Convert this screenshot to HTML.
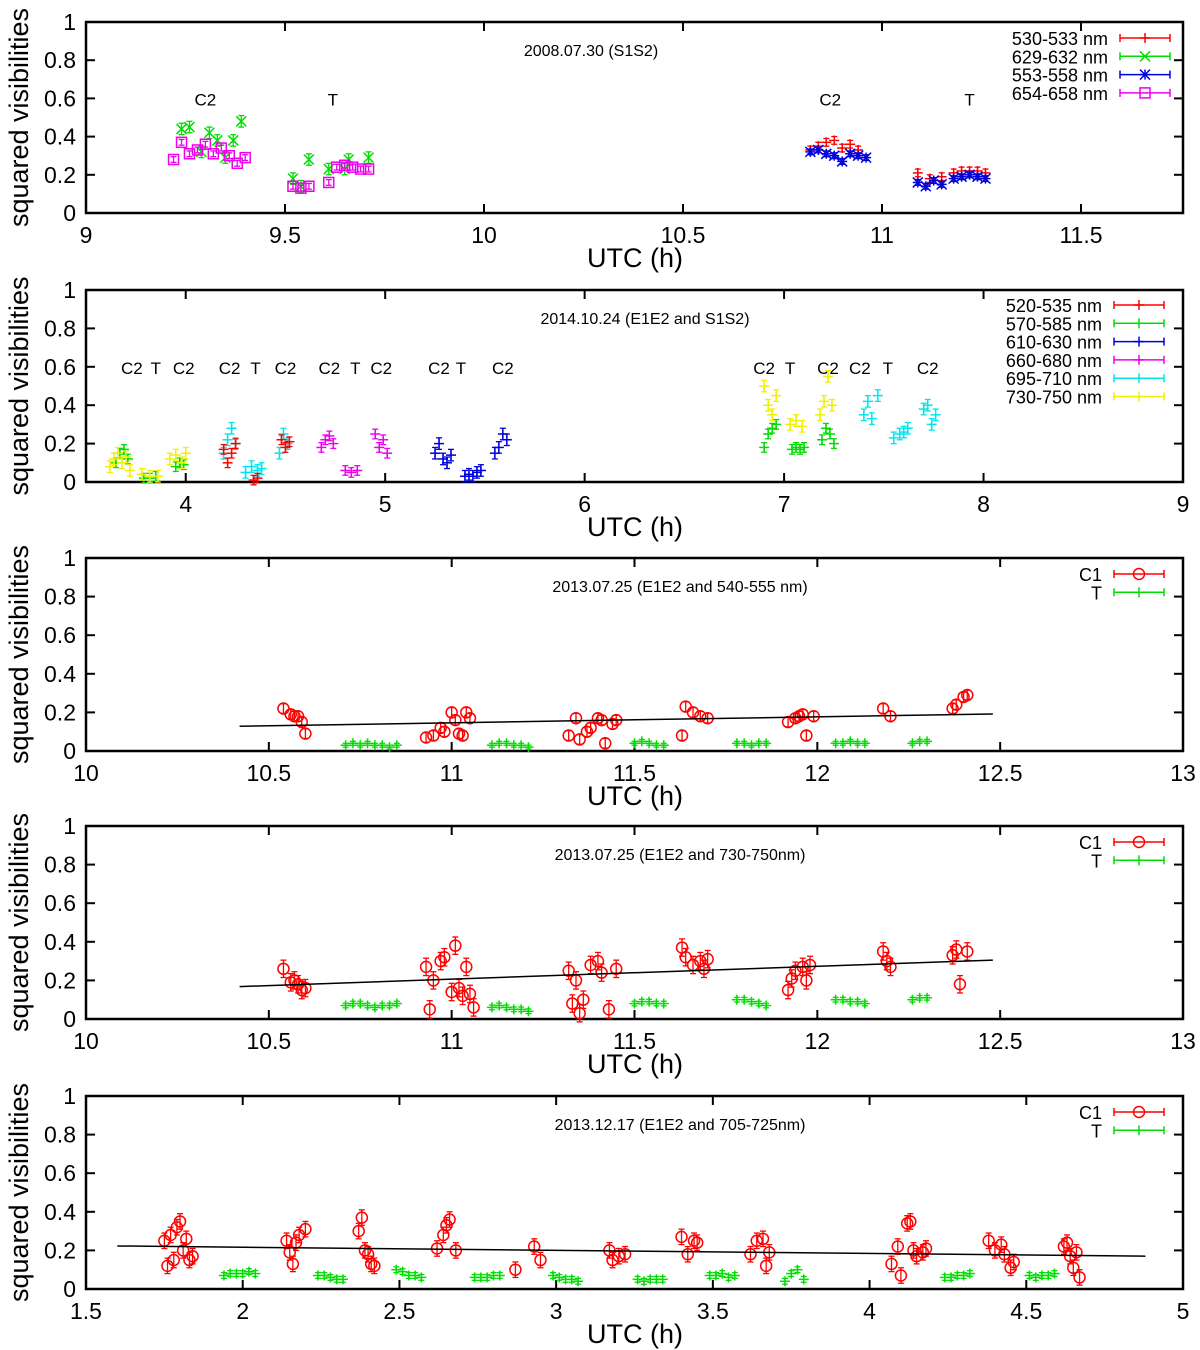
<!DOCTYPE html>
<html><head><meta charset="utf-8">
<style>
body{margin:0;background:#fff;}
svg{display:block;font-family:"Liberation Sans",sans-serif;}
</style></head>
<body>
<svg id="chart" width="1200" height="1350" viewBox="0 0 1200 1350" xmlns="http://www.w3.org/2000/svg"></svg>
<script>
// ---------- Panel 1 data ----------
const p1RedX=[10.82,10.84,10.86,10.88,10.90,10.92,10.94,11.09,11.12,11.15,11.18,11.20,11.22,11.24,11.26];
const p1RedY=[0.33,0.35,0.37,0.38,0.34,0.36,0.33,0.21,0.18,0.19,0.21,0.22,0.22,0.22,0.21];
const p1GreenX=[9.24,9.26,9.29,9.31,9.33,9.35,9.37,9.39,9.52,9.54,9.56,9.61,9.65,9.66,9.71];
const p1GreenY=[0.44,0.45,0.32,0.42,0.38,0.29,0.38,0.48,0.18,0.14,0.28,0.23,0.23,0.28,0.29];
const p1BlueX=[10.82,10.84,10.86,10.88,10.90,10.92,10.94,10.96,11.09,11.11,11.13,11.15,11.18,11.20,11.22,11.24,11.26];
const p1BlueY=[0.32,0.33,0.31,0.30,0.27,0.31,0.30,0.29,0.16,0.14,0.17,0.15,0.18,0.19,0.20,0.19,0.18];
const p1MagX=[9.22,9.24,9.26,9.28,9.30,9.32,9.34,9.36,9.38,9.40,9.52,9.54,9.56,9.61,9.63,9.65,9.67,9.69,9.71];
const p1MagY=[0.28,0.37,0.31,0.33,0.36,0.31,0.34,0.30,0.26,0.29,0.14,0.13,0.14,0.16,0.24,0.25,0.24,0.23,0.23];
const p1Legend=["530-533 nm","629-632 nm","553-558 nm","654-658 nm"];
const p1LabelX=[9.3,9.62,10.87,11.22];
const p1LabelT=["C2","T","C2","T"];
// ---------- Panel 2 data ----------
const p2RedX=[4.19,4.21,4.23,4.25,4.34,4.36,4.48,4.50,4.52];
const p2RedY=[0.17,0.10,0.15,0.20,0.01,0.02,0.22,0.18,0.21];
const p2GreenX=[3.65,3.67,3.69,3.71,3.79,3.82,3.85,3.95,3.97,3.99,6.90,6.92,6.94,6.96,7.04,7.06,7.08,7.10,7.19,7.21,7.23,7.25];
const p2GreenY=[0.10,0.15,0.17,0.12,0.02,0.02,0.03,0.08,0.10,0.09,0.18,0.25,0.28,0.30,0.17,0.18,0.17,0.18,0.22,0.28,0.25,0.20];
const p2BlueX=[5.25,5.27,5.29,5.31,5.33,5.40,5.42,5.44,5.46,5.48,5.55,5.57,5.59,5.61];
const p2BlueY=[0.15,0.20,0.12,0.10,0.14,0.03,0.04,0.03,0.05,0.06,0.15,0.18,0.25,0.22];
const p2MagX=[4.68,4.70,4.72,4.74,4.80,4.83,4.86,4.95,4.97,4.99,5.01];
const p2MagY=[0.18,0.22,0.24,0.20,0.06,0.05,0.06,0.25,0.18,0.22,0.15];
const p2CyanX=[4.19,4.21,4.23,4.25,4.30,4.33,4.36,4.38,4.47,4.49,4.51,7.40,7.42,7.44,7.47,7.55,7.58,7.60,7.62,7.70,7.72,7.74,7.76];
const p2CyanY=[0.15,0.22,0.28,0.20,0.05,0.08,0.06,0.07,0.15,0.25,0.20,0.35,0.42,0.33,0.45,0.23,0.25,0.26,0.28,0.38,0.40,0.30,0.35];
const p2YellowX=[3.62,3.64,3.66,3.68,3.70,3.72,3.78,3.82,3.86,3.92,3.95,3.98,4.00,6.90,6.92,6.94,6.96,7.03,7.06,7.09,7.18,7.20,7.22,7.24];
const p2YellowY=[0.08,0.12,0.15,0.10,0.13,0.06,0.04,0.03,0.03,0.12,0.14,0.10,0.15,0.50,0.40,0.35,0.45,0.30,0.32,0.29,0.35,0.42,0.55,0.40];
const p2Legend=["520-535 nm","570-585 nm","610-630 nm","660-680 nm","695-710 nm","730-750 nm"];
const p2LabelX=[3.73,3.85,3.99,4.22,4.35,4.5,4.72,4.85,4.98,5.27,5.38,5.59,6.9,7.03,7.22,7.38,7.52,7.72];
const p2LabelT=["C2","T","C2","C2","T","C2","C2","T","C2","C2","T","C2","C2","T","C2","C2","T","C2"];
// ---------- Panel 3 data ----------
const p3RedX=[10.54,10.56,10.57,10.58,10.59,10.60,10.93,10.95,10.97,10.98,11.00,11.01,11.02,11.03,11.04,11.05,11.32,11.34,11.35,11.37,11.38,11.40,11.41,11.42,11.44,11.45,11.63,11.64,11.66,11.68,11.70,11.92,11.94,11.95,11.96,11.97,11.99,12.18,12.20,12.37,12.38,12.40,12.41];
const p3RedY=[0.22,0.19,0.18,0.18,0.15,0.09,0.07,0.08,0.12,0.10,0.20,0.16,0.09,0.08,0.20,0.17,0.08,0.17,0.06,0.10,0.12,0.17,0.16,0.04,0.14,0.16,0.08,0.23,0.20,0.18,0.17,0.15,0.17,0.18,0.19,0.08,0.18,0.22,0.18,0.22,0.24,0.28,0.29];
const p3GreenX=[10.71,10.73,10.75,10.77,10.79,10.81,10.83,10.85,11.11,11.13,11.15,11.17,11.19,11.21,11.50,11.52,11.54,11.56,11.58,11.78,11.80,11.82,11.84,11.86,12.05,12.07,12.09,12.11,12.13,12.26,12.28,12.30];
const p3GreenY=[0.03,0.04,0.03,0.04,0.03,0.03,0.02,0.03,0.03,0.04,0.04,0.03,0.03,0.02,0.04,0.05,0.04,0.03,0.03,0.04,0.04,0.03,0.04,0.04,0.04,0.04,0.05,0.04,0.04,0.04,0.05,0.05];
const p3LineX=[10.42,12.48];
const p3LineY=[0.128,0.192];
const p3Title="2013.07.25 (E1E2 and 540-555 nm)";
// ---------- Panel 4 data ----------
const p4RedX=[10.54,10.56,10.57,10.58,10.59,10.60,10.93,10.94,10.95,10.97,10.98,11.00,11.01,11.02,11.03,11.04,11.05,11.06,11.32,11.33,11.34,11.35,11.36,11.38,11.40,11.41,11.43,11.45,11.63,11.64,11.66,11.68,11.69,11.70,11.92,11.93,11.94,11.96,11.97,11.98,12.18,12.19,12.20,12.37,12.38,12.39,12.41];
const p4RedY=[0.26,0.19,0.20,0.18,0.15,0.16,0.27,0.05,0.20,0.30,0.32,0.14,0.38,0.16,0.12,0.27,0.13,0.06,0.25,0.08,0.20,0.03,0.10,0.28,0.30,0.24,0.05,0.26,0.37,0.32,0.28,0.30,0.26,0.31,0.15,0.21,0.25,0.27,0.20,0.28,0.35,0.30,0.27,0.33,0.36,0.18,0.35];
const p4GreenX=[10.71,10.73,10.75,10.77,10.79,10.81,10.83,10.85,11.11,11.13,11.15,11.17,11.19,11.21,11.50,11.52,11.54,11.56,11.58,11.78,11.80,11.82,11.84,11.86,12.05,12.07,12.09,12.11,12.13,12.26,12.28,12.30];
const p4GreenY=[0.07,0.08,0.08,0.07,0.06,0.07,0.07,0.08,0.06,0.07,0.06,0.05,0.05,0.04,0.08,0.09,0.09,0.08,0.08,0.10,0.10,0.09,0.08,0.07,0.10,0.10,0.09,0.09,0.08,0.10,0.11,0.11];
const p4LineX=[10.42,12.48];
const p4LineY=[0.168,0.305];
const p4Title="2013.07.25 (E1E2 and 730-750nm)";
// ---------- Panel 5 data ----------
const p5RedX=[1.75,1.76,1.77,1.78,1.79,1.80,1.81,1.82,1.83,1.84,2.14,2.15,2.16,2.17,2.18,2.20,2.37,2.38,2.39,2.40,2.41,2.42,2.62,2.64,2.65,2.66,2.68,2.87,2.93,2.95,3.17,3.18,3.20,3.22,3.40,3.42,3.44,3.45,3.62,3.64,3.66,3.67,3.68,4.07,4.09,4.10,4.12,4.13,4.14,4.15,4.17,4.18,4.38,4.40,4.42,4.43,4.45,4.46,4.62,4.63,4.64,4.65,4.66,4.67];
const p5RedY=[0.25,0.12,0.28,0.15,0.32,0.35,0.20,0.26,0.15,0.17,0.25,0.19,0.13,0.24,0.28,0.31,0.30,0.37,0.20,0.18,0.13,0.12,0.21,0.28,0.33,0.36,0.20,0.10,0.22,0.15,0.20,0.15,0.17,0.18,0.27,0.18,0.25,0.24,0.18,0.25,0.26,0.12,0.19,0.13,0.22,0.07,0.34,0.35,0.20,0.17,0.19,0.21,0.25,0.20,0.23,0.18,0.11,0.14,0.22,0.24,0.17,0.11,0.19,0.06];
const p5GreenX=[1.94,1.96,1.98,2.00,2.02,2.04,2.24,2.26,2.28,2.30,2.32,2.49,2.51,2.53,2.55,2.57,2.74,2.76,2.78,2.80,2.82,2.99,3.01,3.03,3.05,3.07,3.26,3.28,3.30,3.32,3.34,3.49,3.51,3.53,3.55,3.57,3.73,3.75,3.77,3.79,4.24,4.26,4.28,4.30,4.32,4.51,4.53,4.55,4.57,4.59];
const p5GreenY=[0.07,0.08,0.08,0.08,0.09,0.08,0.07,0.07,0.06,0.05,0.05,0.10,0.09,0.07,0.07,0.06,0.06,0.06,0.06,0.07,0.07,0.07,0.06,0.05,0.05,0.04,0.05,0.04,0.05,0.05,0.05,0.07,0.07,0.08,0.06,0.07,0.04,0.08,0.10,0.05,0.06,0.06,0.07,0.07,0.08,0.07,0.06,0.07,0.07,0.08];
const p5LineX=[1.6,4.88];
const p5LineY=[0.223,0.17];
const p5Title="2013.12.17 (E1E2 and 705-725nm)";
const yTicks=[0,0.2,0.4,0.6,0.8,1];
const yTickLabels=["0","0.2","0.4","0.6","0.8","1"];

const NS="http://www.w3.org/2000/svg";
const svg=document.getElementById('chart');
function mk(tag,attrs,parent){const e=document.createElementNS(NS,tag);for(const k in attrs)e.setAttribute(k,attrs[k]);(parent||svg).appendChild(e);return e;}
const L=86,R=1183;
const COL={red:"#ff0000",green:"#00dd00",blue:"#0000dd",mag:"#ee00ee",cyan:"#00e5ee",yellow:"#f0f000",black:"#000"};

function panel(top,bot,xmin,xmax,xticks,name){
  const g=mk('g',{});
  
  
  const sx=v=>L+(v-xmin)/(xmax-xmin)*(R-L);
  const sy=v=>bot-v*(bot-top);
  mk('rect',{x:L,y:top,width:R-L,height:bot-top,fill:'none',stroke:'#000','stroke-width':2.5},g);
  yTicks.forEach((t,i)=>{
    const y=sy(t);
    mk('line',{x1:L,x2:L+9,y1:y,y2:y,stroke:'#000','stroke-width':2},g);
    mk('line',{x1:R,x2:R-9,y1:y,y2:y,stroke:'#000','stroke-width':2},g);
    const tx=mk('text',{x:L-10,y:y+8,'font-size':23,'text-anchor':'end'},g);
    
    
    tx.textContent=yTickLabels[i];
  });
  xticks.forEach(t=>{
    const x=sx(t);
    mk('line',{x1:x,x2:x,y1:bot,y2:bot-9,stroke:'#000','stroke-width':2},g);
    mk('line',{x1:x,x2:x,y1:top,y2:top+9,stroke:'#000','stroke-width':2},g);
    const tx=mk('text',{x:x,y:bot+30,'font-size':23,'text-anchor':'middle'},g);
    
    
    tx.textContent=String(t);
  });
  const xt=mk('text',{x:635,y:bot+54,'font-size':27,'text-anchor':'middle'},g);
  
  
  xt.textContent='UTC (h)';
  const cy=(top+bot)/2;
  const yt=mk('text',{x:28,y:cy,'font-size':27,'text-anchor':'middle',transform:`rotate(-90 28 ${cy})`},g);
  
  
  yt.textContent='squared visibilities';
  return {g,sx,sy,top,bot};
}
function marker(g,type,x,y,c){
  const s=5;
  if(type==='plus'||type==='star'){mk('line',{x1:x-s,x2:x+s,y1:y,y2:y,stroke:c,'stroke-width':1.5},g);mk('line',{x1:x,x2:x,y1:y-s,y2:y+s,stroke:c,'stroke-width':1.5},g);}
  if(type==='x'||type==='star'){mk('line',{x1:x-s,x2:x+s,y1:y-s,y2:y+s,stroke:c,'stroke-width':1.5},g);mk('line',{x1:x-s,x2:x+s,y1:y+s,y2:y-s,stroke:c,'stroke-width':1.5},g);}
  if(type==='square')mk('rect',{x:x-5,y:y-5,width:10,height:10,fill:'none',stroke:c,'stroke-width':1.5},g);
  if(type==='circle')mk('circle',{cx:x,cy:y,r:5.5,fill:'none',stroke:c,'stroke-width':1.5},g);
}
function series(P,xs,ys,c,type,err,name){
  const g=mk('g',{},P.g);
  
  
  xs.forEach((xv,i)=>{
    const x=P.sx(xv),y=P.sy(ys[i]);
    const e=err*(P.bot-P.top);
    mk('line',{x1:x,x2:x,y1:y-e,y2:y+e,stroke:c,'stroke-width':1.3},g);
    mk('line',{x1:x-3,x2:x+3,y1:y-e,y2:y-e,stroke:c,'stroke-width':1.3},g);
    mk('line',{x1:x-3,x2:x+3,y1:y+e,y2:y+e,stroke:c,'stroke-width':1.3},g);
    marker(g,type,x,y,c);
  });
}
function legend(P,labels,cols,types,startY,rx){
  labels.forEach((lab,i)=>{
    const y=startY+i*18.3;
    const t=mk('text',{x:rx,y:y+7,'font-size':18,'text-anchor':'end'},P.g);
    
    
    t.textContent=lab;
    const c=COL[cols[i]];
    mk('line',{x1:rx+12,x2:rx+62,y1:y,y2:y,stroke:c,'stroke-width':1.5},P.g);
    mk('line',{x1:rx+12,x2:rx+12,y1:y-4,y2:y+4,stroke:c,'stroke-width':1.5},P.g);
    mk('line',{x1:rx+62,x2:rx+62,y1:y-4,y2:y+4,stroke:c,'stroke-width':1.5},P.g);
    marker(P.g,types[i],rx+37,y,c);
  });
}
function title(P,text,x){
  const t=mk('text',{x:x,y:P.top+34,'font-size':16,'text-anchor':'middle'},P.g);
  
  
  t.textContent=text;
}
function labels(P,xs,ts){
  xs.forEach((xv,i)=>{
    const t=mk('text',{x:P.sx(xv),y:P.sy(0.6)+7,'font-size':17,'text-anchor':'middle'},P.g);
    
    
    t.textContent=ts[i];
  });
}
function fitLine(P,xs,ys){
  const l=mk('line',{x1:P.sx(xs[0]),y1:P.sy(ys[0]),x2:P.sx(xs[1]),y2:P.sy(ys[1]),stroke:'#000','stroke-width':1.5},P.g);
  
  
}

// Panel 1
const P1=panel(22,213,9,9+1097/398,[9,9.5,10,10.5,11,11.5],'panel-2008');
title(P1,"2008.07.30 (S1S2)",591);
labels(P1,p1LabelX,p1LabelT);
series(P1,p1GreenX,p1GreenY,COL.green,'x',0.03,'series-629-632');
series(P1,p1MagX,p1MagY,COL.mag,'square',0.015,'series-654-658');
series(P1,p1RedX,p1RedY,COL.red,'plus',0.02,'series-530-533');
series(P1,p1BlueX,p1BlueY,COL.blue,'star',0.015,'series-553-558');
legend(P1,p1Legend,['red','green','blue','mag'],['plus','x','star','square'],38,1108);

// Panel 2
const P2=panel(290,482,3.5,9,[4,5,6,7,8,9],'panel-2014');
title(P2,"2014.10.24 (E1E2 and S1S2)",645);
labels(P2,p2LabelX,p2LabelT);
series(P2,p2GreenX,p2GreenY,COL.green,'plus',0.025,'series-570-585');
series(P2,p2YellowX,p2YellowY,COL.yellow,'plus',0.03,'series-730-750');
series(P2,p2CyanX,p2CyanY,COL.cyan,'plus',0.03,'series-695-710');
series(P2,p2RedX,p2RedY,COL.red,'plus',0.025,'series-520-535');
series(P2,p2MagX,p2MagY,COL.mag,'plus',0.025,'series-660-680');
series(P2,p2BlueX,p2BlueY,COL.blue,'plus',0.03,'series-610-630');
legend(P2,p2Legend,['red','green','blue','mag','cyan','yellow'],['plus','plus','plus','plus','plus','plus'],305,1102);

// Panels 3-5
const P3=panel(558,751,10,13,[10,10.5,11,11.5,12,12.5,13],'panel-2013-07-540');
title(P3,p3Title,680);
series(P3,p3GreenX,p3GreenY,COL.green,'plus',0.01,'series-T');
series(P3,p3RedX,p3RedY,COL.red,'circle',0.025,'series-C1');
fitLine(P3,p3LineX,p3LineY);
legend(P3,["C1","T"],['red','green'],['circle','plus'],574,1102);

const P4=panel(826,1019,10,13,[10,10.5,11,11.5,12,12.5,13],'panel-2013-07-730');
title(P4,p4Title,680);
series(P4,p4GreenX,p4GreenY,COL.green,'plus',0.012,'series-T');
series(P4,p4RedX,p4RedY,COL.red,'circle',0.045,'series-C1');
fitLine(P4,p4LineX,p4LineY);
legend(P4,["C1","T"],['red','green'],['circle','plus'],842,1102);

const P5=panel(1096,1289,1.5,5,[1.5,2,2.5,3,3.5,4,4.5,5],'panel-2013-12');
title(P5,p5Title,680);
series(P5,p5GreenX,p5GreenY,COL.green,'plus',0.015,'series-T');
series(P5,p5RedX,p5RedY,COL.red,'circle',0.04,'series-C1');
fitLine(P5,p5LineX,p5LineY);
legend(P5,["C1","T"],['red','green'],['circle','plus'],1112,1102);
</script>
</body></html>
